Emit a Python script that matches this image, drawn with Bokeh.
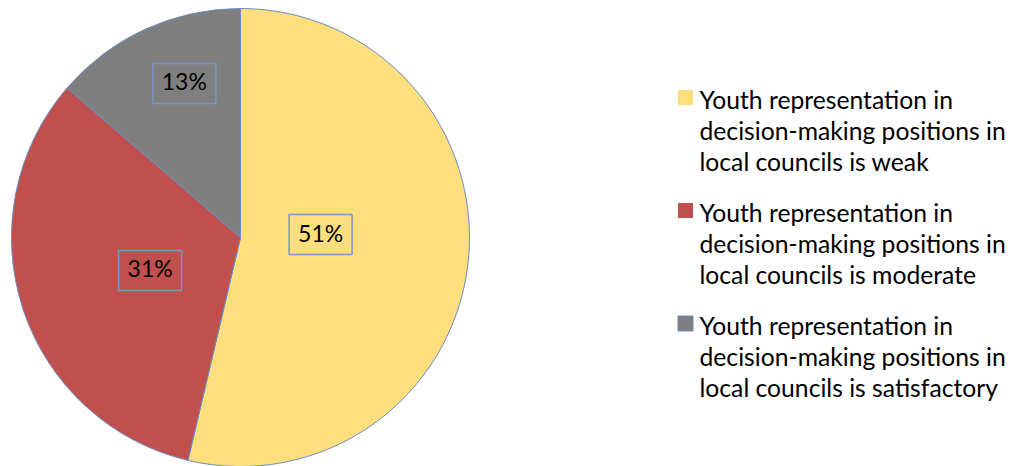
import math
from bokeh.plotting import figure
from bokeh.models import Range1d, ColumnDataSource
from bokeh.core.properties import value
from bokeh.embed import file_html
from bokeh.resources import INLINE

# ---- data ----
categories = [
    "Youth representation in decision-making positions in local councils is weak",
    "Youth representation in decision-making positions in local councils is moderate",
    "Youth representation in decision-making positions in local councils is satisfactory",
]
legend_lines = [
    ["Youth representation in", "decision-making positions in", "local councils is weak"],
    ["Youth representation in", "decision-making positions in", "local councils is moderate"],
    ["Youth representation in", "decision-making positions in", "local councils is satisfactory"],
]
values = [51, 31, 13]
labels = ["51%", "31%", "13%"]
colors = ["#FFDE7D", "#C0504D", "#7F7F7F"]

# ---- layout (pixels) ----
W, H = 1014, 466
FONT = "Lato"
cx, cy, R = 240, H - 237, 229
label_r = [0.35, 0.42, 0.716]
label_shift = [8.7, 2.0, -4.6]  # degrees

p = figure(width=W, height=H, output_backend="svg", toolbar_location=None,
           x_range=Range1d(0, W), y_range=Range1d(0, H),
           x_axis_location=None, y_axis_location=None, min_border=0)
p.outline_line_color = None
p.grid.visible = False
p.background_fill_color = "white"
p.border_fill_color = "white"

total = sum(values)
starts, ends = [], []
a = math.pi / 2
for v in values:
    starts.append(a)
    a -= v / total * 2 * math.pi
    ends.append(a)

src = ColumnDataSource(dict(start=starts, end=ends, color=colors))
p.wedge(x=cx, y=cy, radius=R, start_angle="start", end_angle="end",
        direction="clock", fill_color="color", line_color="#6A8CC4",
        line_width=1, source=src)

lx, ly = [], []
for i in range(len(values)):
    mid = (starts[i] + ends[i]) / 2 + math.radians(label_shift[i])
    lx.append(cx + R * label_r[i] * math.cos(mid))
    ly.append(cy + R * label_r[i] * math.sin(mid))

p.rect(x=lx, y=ly, width=63, height=40, width_units="screen", height_units="screen",
       fill_color=None, line_color="#7A96C4", line_width=1.5)
p.text(x=lx, y=[v + 2 for v in ly], text=labels, text_align="center", text_baseline="middle",
       text_font=value(FONT), text_font_size="23px", text_color="#000000")

# legend
leg_x = 677
top0 = H - 97
gap = 113
line_h = 31
tx, ty, tt = [], [], []
for i, lines in enumerate(legend_lines):
    yc = top0 - i * gap
    p.rect(x=[leg_x + 8], y=[yc], width=15, height=15, width_units="screen",
           height_units="screen", fill_color=colors[i],
           line_color="#6A8CC4" if i == 2 else None, line_width=1)
    for j, s in enumerate(lines):
        tx.append(leg_x + 22)
        ty.append(yc - 2 - j * line_h)
        tt.append(s)
p.text(x=tx, y=ty, text=tt, text_align="left", text_baseline="alphabetic",
       text_font=value(FONT), text_font_size="24.7px", text_color="#000000")

open("out.html", "w").write(file_html(p, INLINE))
